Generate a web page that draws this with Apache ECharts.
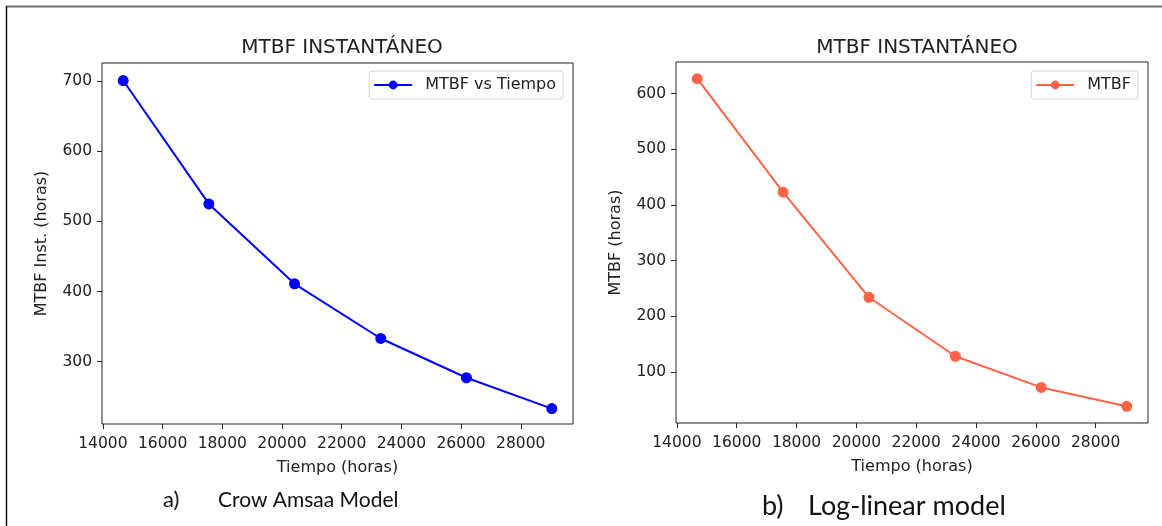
<!DOCTYPE html>
<html>
<head>
<meta charset="utf-8">
<script src="https://cdn.jsdelivr.net/npm/echarts@6/dist/echarts.min.js"></script>
<style>
  html, body { margin: 0; padding: 0; background: #fff; }
  #chart { width: 1162px; height: 526px; }
</style>
</head>
<body>
<div id="chart"></div>
<script>
// datos
const tiempo = [14680, 17550, 20420, 23310, 26180, 29040];
const mtbfCrow = [701, 525, 411, 333, 277, 233];
const mtbfLog = [627, 423, 234, 128, 72, 38];
const xTicks = [14000, 16000, 18000, 20000, 22000, 24000, 26000, 28000];
const yTicksCrow = [300, 400, 500, 600, 700];
const yTicksLog = [100, 200, 300, 400, 500, 600];

const font = 'DejaVu Sans';
const capFont = 'Lato';
const ink = '#222';

function xAxisCfg (grid) {
  return {
    type: 'value',
    gridIndex: grid,
    min: 13970,
    max: 29750,
    name: 'Tiempo (horas)',
    nameLocation: 'middle',
    nameGap: 36,
    nameTextStyle: { fontFamily: font, fontSize: 16, color: ink },
    splitLine: { show: false },
    axisLine: { show: false },
    axisTick: { show: true, length: 5, lineStyle: { color: ink }, customValues: xTicks },
    axisLabel: { fontFamily: font, fontSize: 15.5, color: ink, margin: 12, customValues: xTicks,
      formatter: v => String(v) }
  }
}

function yAxisCfg (grid, name, min, max, ticks) {
  return {
    type: 'value',
    gridIndex: grid,
    min: min,
    max: max,
    name: name,
    nameLocation: 'middle',
    nameGap: 52,
    nameTextStyle: { fontFamily: font, fontSize: 16, color: ink },
    splitLine: { show: false },
    axisLine: { show: false },
    axisTick: { show: true, length: 5, lineStyle: { color: ink }, customValues: ticks },
    axisLabel: { fontFamily: font, fontSize: 15.5, color: ink, margin: 10, customValues: ticks }
  }
}

function legendCfg (name, right) {
  return {
    data: [name],
    right: right,
    top: 71,
    orient: 'vertical',
    padding: [6, 7, 6, 4],
    itemWidth: 38,
    itemHeight: 11,
    borderColor: '#d4d4d4',
    borderWidth: 1,
    borderRadius: 3,
    textStyle: { fontFamily: font, fontSize: 16, color: ink, padding: [0, 0, 0, 8] }
  }
}

const chart = echarts.init(document.getElementById('chart'), null, { renderer: 'canvas' })
chart.setOption({
  animation: false,
  backgroundColor: '#fff',
  title: [
    { text: 'MTBF INSTANTÁNEO', left: 337, top: 33, textAlign: 'center',
      textStyle: { fontFamily: font, fontSize: 20, fontWeight: 'normal', color: ink } },
    { text: 'MTBF INSTANTÁNEO', left: 912, top: 33, textAlign: 'center',
      textStyle: { fontFamily: font, fontSize: 20, fontWeight: 'normal', color: ink } }
  ],
  legend: [legendCfg('MTBF vs Tiempo', 1162 - 563), legendCfg('MTBF', 1162 - 1138)],
  grid: [
    { left: 102, top: 63, width: 471, height: 361, show: true, borderColor: ink, borderWidth: 1, backgroundColor: 'transparent' },
    { left: 676, top: 62, width: 472, height: 361, show: true, borderColor: ink, borderWidth: 1, backgroundColor: 'transparent' }
  ],
  xAxis: [xAxisCfg(0), xAxisCfg(1)],
  yAxis: [
    yAxisCfg(0, 'MTBF Inst. (horas)', 211, 726, yTicksCrow),
    yAxisCfg(1, 'MTBF (horas)', 8, 657, yTicksLog)
  ],
  series: [
    {
      name: 'MTBF vs Tiempo',
      type: 'line',
      xAxisIndex: 0,
      yAxisIndex: 0,
      data: tiempo.map((t, i) => [t, mtbfCrow[i]]),
      symbol: 'circle',
      symbolSize: 11,
      color: '#0000ff',
      lineStyle: { width: 2, color: '#0000ff' },
      itemStyle: { color: '#0000ff' }
    },
    {
      name: 'MTBF',
      type: 'line',
      xAxisIndex: 1,
      yAxisIndex: 1,
      data: tiempo.map((t, i) => [t, mtbfLog[i]]),
      symbol: 'circle',
      symbolSize: 11,
      color: '#ff6347',
      lineStyle: { width: 2, color: '#ff6347' },
      itemStyle: { color: '#ff6347' }
    }
  ],
  graphic: [
    { type: 'line', shape: { x1: 6, y1: 6.5, x2: 1162, y2: 6.5 }, style: { stroke: '#707070', lineWidth: 2 } },
    { type: 'line', shape: { x1: 6.5, y1: 6, x2: 6.5, y2: 526 }, style: { stroke: '#111', lineWidth: 1.5 } },
    { type: 'text', x: 163, y: 500,
      style: { text: 'a)', font: '22px ' + capFont, fill: '#111', verticalAlign: 'middle' } },
    { type: 'text', x: 218, y: 500,
      style: { text: 'Crow Amsaa Model', font: '21px ' + capFont, fill: '#111', verticalAlign: 'middle' } },
    { type: 'text', x: 762, y: 506,
      style: { text: 'b)', font: '27px ' + capFont, fill: '#111', verticalAlign: 'middle' } },
    { type: 'text', x: 808, y: 506,
      style: { text: 'Log-linear model', font: '27px ' + capFont, fill: '#111', verticalAlign: 'middle' } }
  ]
})
</script>
</body>
</html>
